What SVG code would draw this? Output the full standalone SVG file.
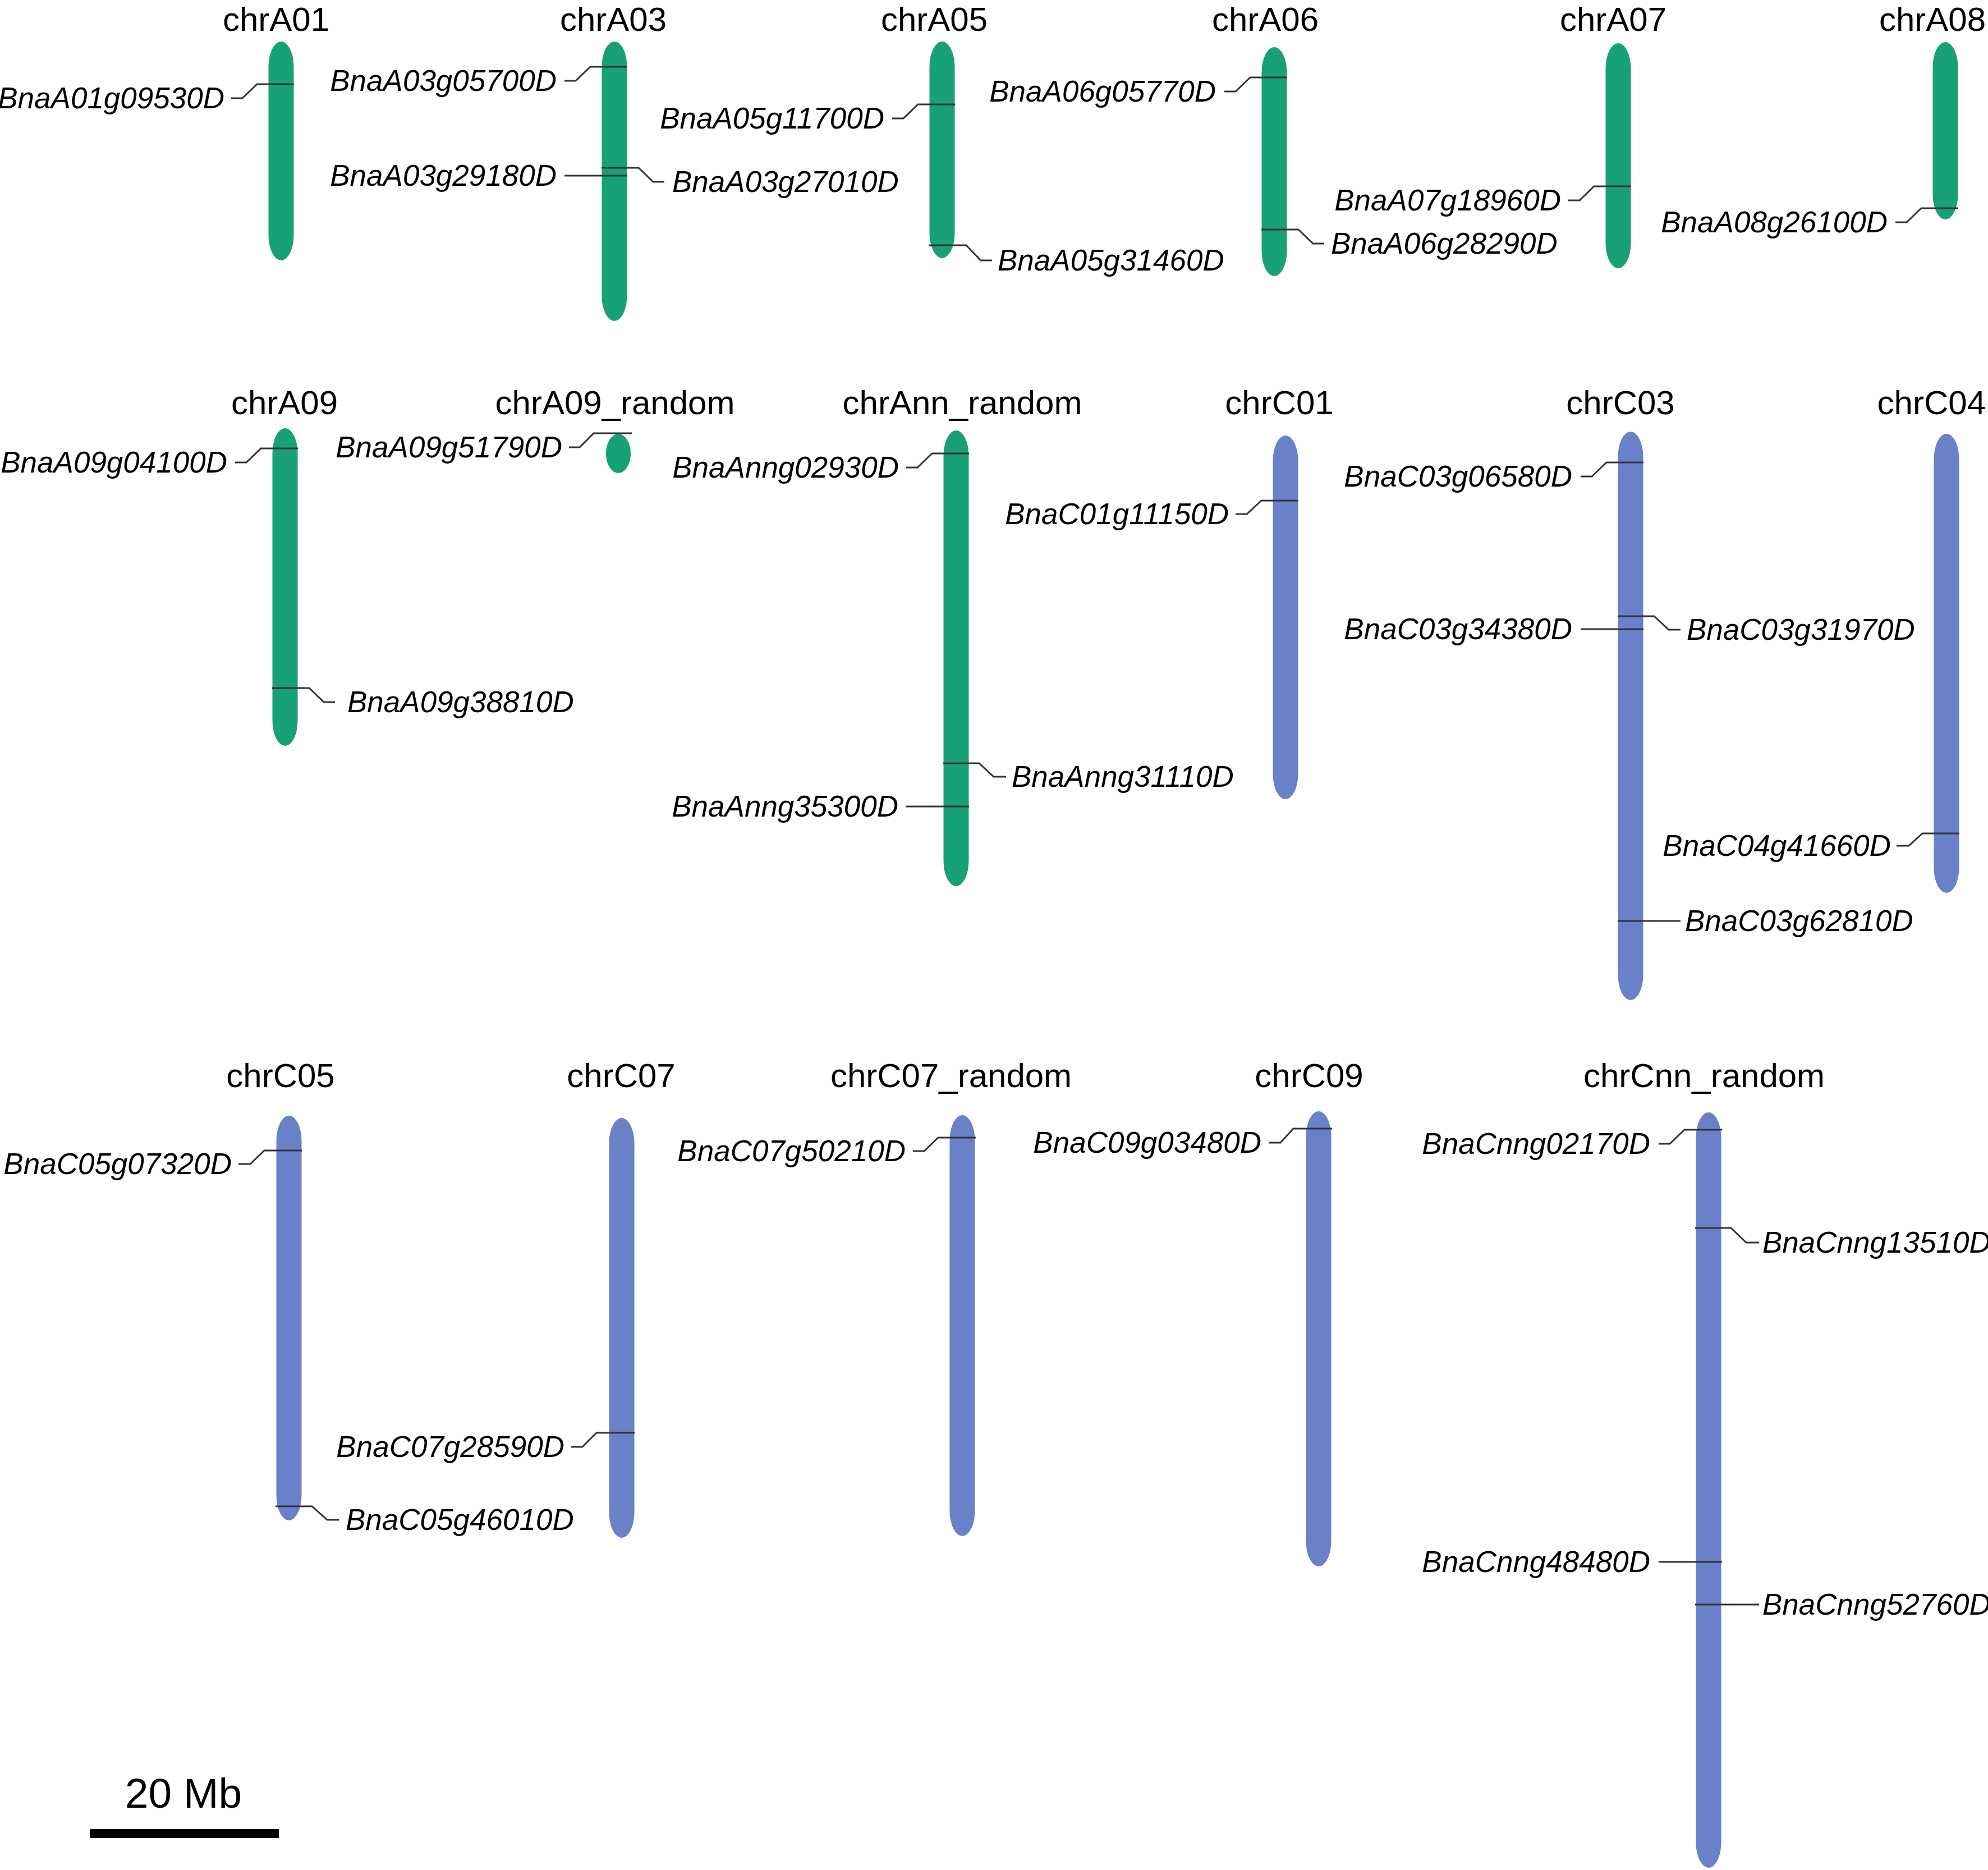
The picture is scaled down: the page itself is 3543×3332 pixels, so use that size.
<svg xmlns="http://www.w3.org/2000/svg" width="3543" height="3332" viewBox="0 0 3543 3332">
<style>
.bg{fill:#ffffff}
.a{fill:#18A077}
.c{fill:#6981C9}
.t{font-family:"Liberation Sans",Arial,sans-serif;font-size:60px;fill:#000;text-anchor:middle}
.te{font-family:"Liberation Sans",Arial,sans-serif;font-size:60px;fill:#000;text-anchor:end}
.gl{font-family:"Liberation Sans",Arial,sans-serif;font-size:53px;font-style:italic;fill:#000;text-anchor:end}
.gr{font-family:"Liberation Sans",Arial,sans-serif;font-size:53px;font-style:italic;fill:#000;text-anchor:start}
.k{fill:none;stroke:#333;stroke-width:3}
.sb{font-family:"Liberation Sans",Arial,sans-serif;font-size:75px;fill:#000;text-anchor:middle}
</style>
<rect class="bg" x="0" y="0" width="3543" height="3332"/>

<g id="chrA01"><rect class="a" x="478.5" y="74" width="45" height="390" rx="22.5" ry="45"/><text class="t" x="492" y="55">chrA01</text><text class="gl" x="400" y="193">BnaA01g09530D</text></g>
<g id="chrA03"><rect class="a" x="1072.5" y="74" width="45" height="498" rx="22.5" ry="45"/><text class="t" x="1093" y="55">chrA03</text><text class="gl" x="992" y="162">BnaA03g05700D</text><text class="gl" x="992" y="331">BnaA03g29180D</text><text class="gr" x="1198" y="342">BnaA03g27010D</text></g>
<g id="chrA05"><rect class="a" x="1656.5" y="74" width="45" height="386" rx="22.5" ry="45"/><text class="t" x="1665" y="55">chrA05</text><text class="gl" x="1576" y="229">BnaA05g11700D</text><text class="gr" x="1778" y="482">BnaA05g31460D</text></g>
<g id="chrA06"><rect class="a" x="2248.5" y="84" width="45" height="408" rx="22.5" ry="45"/><text class="t" x="2255" y="55">chrA06</text><text class="gl" x="2167" y="181">BnaA06g05770D</text><text class="gr" x="2372" y="452">BnaA06g28290D</text></g>
<g id="chrA07"><rect class="a" x="2861.5" y="77" width="45" height="401" rx="22.5" ry="45"/><text class="t" x="2875" y="55">chrA07</text><text class="gl" x="2782" y="375">BnaA07g18960D</text></g>
<g id="chrA08"><rect class="a" x="3444.5" y="75" width="45" height="316" rx="22.5" ry="45"/><text class="te" x="3539" y="55">chrA08</text><text class="gl" x="3364" y="414">BnaA08g26100D</text></g>

<g id="chrA09"><rect class="a" x="485.5" y="763" width="45" height="566" rx="22.5" ry="45"/><text class="t" x="507" y="738">chrA09</text><text class="gl" x="405" y="842">BnaA09g04100D</text><text class="gr" x="619" y="1269">BnaA09g38810D</text></g>
<g id="chrA09_random"><ellipse class="a" cx="1102" cy="808" rx="22" ry="35"/><text class="t" x="1096" y="738">chrA09_random</text><text class="gl" x="1002" y="815">BnaA09g51790D</text></g>
<g id="chrAnn_random"><rect class="a" x="1681.5" y="767" width="45" height="812" rx="22.5" ry="45"/><text class="t" x="1715" y="738">chrAnn_random</text><text class="gl" x="1602" y="851">BnaAnng02930D</text><text class="gr" x="1803" y="1402">BnaAnng31110D</text><text class="gl" x="1601" y="1455">BnaAnng35300D</text></g>
<g id="chrC01"><rect class="c" x="2268.5" y="776" width="45" height="648" rx="22.5" ry="45"/><text class="t" x="2280" y="738">chrC01</text><text class="gl" x="2190" y="934">BnaC01g11150D</text></g>
<g id="chrC03"><rect class="c" x="2883.5" y="769" width="45" height="1013" rx="22.5" ry="45"/><text class="t" x="2888" y="738">chrC03</text><text class="gl" x="2802" y="867">BnaC03g06580D</text><text class="gr" x="3006" y="1140">BnaC03g31970D</text><text class="gl" x="2802" y="1139">BnaC03g34380D</text><text class="gr" x="3003" y="1659">BnaC03g62810D</text></g>
<g id="chrC04"><rect class="c" x="3446.5" y="773" width="45" height="818" rx="22.5" ry="45"/><text class="te" x="3539" y="738">chrC04</text><text class="gl" x="3370" y="1525">BnaC04g41660D</text></g>

<g id="chrC05"><rect class="c" x="492.5" y="1988" width="45" height="721" rx="22.5" ry="45"/><text class="t" x="500" y="1937">chrC05</text><text class="gl" x="413" y="2092">BnaC05g07320D</text><text class="gr" x="616" y="2726">BnaC05g46010D</text></g>
<g id="chrC07"><rect class="c" x="1085.5" y="1992" width="45" height="748" rx="22.5" ry="45"/><text class="t" x="1107" y="1937">chrC07</text><text class="gl" x="1006" y="2596">BnaC07g28590D</text></g>
<g id="chrC07_random"><rect class="c" x="1692.5" y="1987" width="45" height="750" rx="22.5" ry="45"/><text class="t" x="1695" y="1937">chrC07_random</text><text class="gl" x="1614" y="2069">BnaC07g50210D</text></g>
<g id="chrC09"><rect class="c" x="2327.5" y="1980" width="45" height="811" rx="22.5" ry="45"/><text class="t" x="2333" y="1937">chrC09</text><text class="gl" x="2248" y="2054">BnaC09g03480D</text></g>
<g id="chrCnn_random"><rect class="c" x="3022.5" y="1982" width="45" height="1346" rx="22.5" ry="45"/><text class="t" x="3037" y="1937">chrCnn_random</text><text class="gl" x="2941" y="2056">BnaCnng02170D</text><text class="gr" x="3141" y="2232">BnaCnng13510D</text><text class="gl" x="2941" y="2801">BnaCnng48480D</text><text class="gr" x="3141" y="2877">BnaCnng52760D</text></g>

<g id="connectors">
<polyline class="k" points="524,150 458,150 432,175 412,175"/>
<polyline class="k" points="1118,119 1052,119 1026,144 1006,144"/>
<polyline class="k" points="1118,313 1006,313"/>
<polyline class="k" points="1072,299 1138,299 1164,324 1184,324"/>
<polyline class="k" points="1702,186 1636,186 1610,211 1590,211"/>
<polyline class="k" points="1656,437 1722,437 1748,464 1768,464"/>
<polyline class="k" points="2294,138 2228,138 2202,163 2182,163"/>
<polyline class="k" points="2248,409 2314,409 2340,434 2360,434"/>
<polyline class="k" points="2907,332 2841,332 2815,357 2795,357"/>
<polyline class="k" points="3490,371 3424,371 3398,396 3378,396"/>
<polyline class="k" points="531,799 465,799 439,824 419,824"/>
<polyline class="k" points="485,1226 551,1226 577,1251 597,1251"/>
<polyline class="k" points="1126,772 1058,772 1033,797 1014,797"/>
<polyline class="k" points="1727,808 1661,808 1635,833 1615,833"/>
<polyline class="k" points="1681,1360 1745,1360 1771,1384 1793,1384"/>
<polyline class="k" points="1727,1437 1614,1437"/>
<polyline class="k" points="2314,892 2248,892 2222,916 2202,916"/>
<polyline class="k" points="2929,824 2863,824 2837,849 2817,849"/>
<polyline class="k" points="2883,1098 2948,1098 2974,1122 2995,1122"/>
<polyline class="k" points="2929,1121 2817,1121"/>
<polyline class="k" points="2883,1641 2995,1641"/>
<polyline class="k" points="3492,1485 3426,1485 3402,1507 3380,1507"/>
<polyline class="k" points="538,2050 471,2050 446,2074 425,2074"/>
<polyline class="k" points="491,2684 556,2684 583,2708 604,2708"/>
<polyline class="k" points="1131,2553 1063,2553 1038,2578 1018,2578"/>
<polyline class="k" points="1739,2027 1672,2027 1647,2051 1627,2051"/>
<polyline class="k" points="2374,2011 2305,2011 2282,2036 2261,2036"/>
<polyline class="k" points="3069,2013 3002,2013 2976,2038 2956,2038"/>
<polyline class="k" points="3021,2188 3085,2188 3112,2214 3135,2214"/>
<polyline class="k" points="3069,2783 2956,2783"/>
<polyline class="k" points="3021,2859 3135,2859"/>
</g>

<g id="scalebar"><text class="sb" x="327" y="3221">20 Mb</text><rect x="160" y="3259" width="337" height="16" fill="#000"/></g>
</svg>
